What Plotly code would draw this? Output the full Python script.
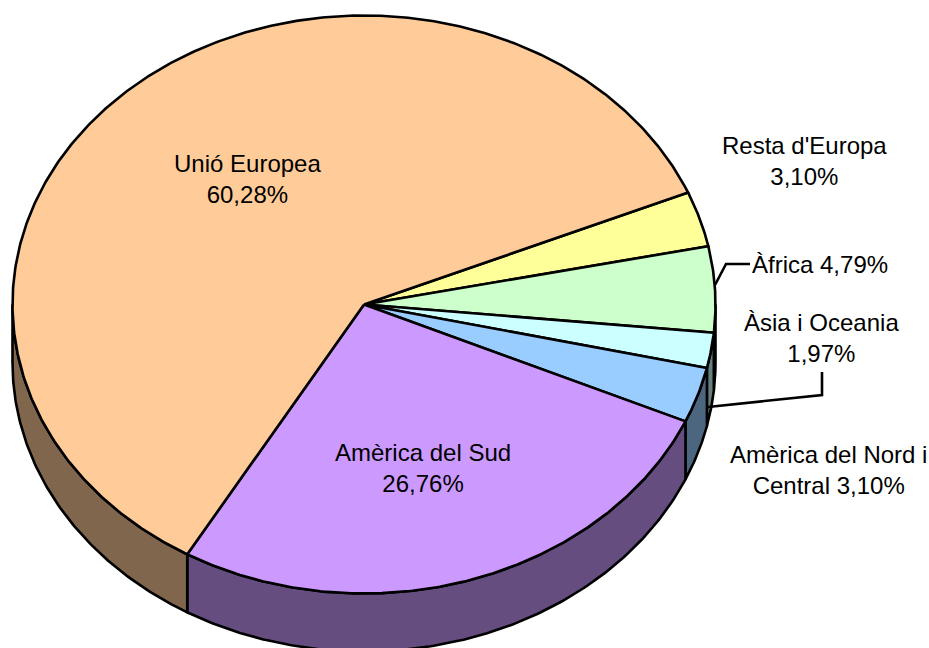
import math
import plotly.graph_objects as go

# Data
categories = ["Unió Europea", "Resta d'Europa", "Àfrica", "Àsia i Oceania",
              "Amèrica del Nord i Central", "Amèrica del Sud"]
shares = [60.28, 3.10, 4.79, 1.97, 3.10, 26.76]
top_colors = ["#FFCC99", "#FFFF99", "#CCFFCC", "#CCFFFF", "#99CCFF", "#CC99FF"]
side_colors = ["#80664D", "#80804D", "#668066", "#668080", "#4D6680", "#664D80"]
label_texts = ["Unió Europea<br>60,28%", "Resta d'Europa<br>3,10%", "Àfrica 4,79%",
               "Àsia i Oceania<br>1,97%", "Amèrica del Nord i<br>Central 3,10%",
               "Amèrica del Sud<br>26,76%"]
label_x = [247, 804, 820, 821, 828, 422.5]
label_y = [179, 161, 264, 338, 470, 468]

# Pie projection
CX, CY, RX, RY, DEPTH = 364, 304.5, 351.5, 289, 58


def pt(deg, dy=0):
    r = math.radians(deg)
    return CX + RX * math.cos(r), CY - RY * math.sin(r) + dy


fig = go.Figure()
LW = 2.6


def poly(xs, ys, fill):
    fig.add_trace(go.Scatter(x=xs, y=ys, mode="lines", fill="toself", fillcolor=fill,
                             line=dict(color="black", width=LW), hoverinfo="skip",
                             showlegend=False))


# slice angle ranges, clockwise (decreasing angle), starting at the Resta d'Europa edge
order = [1, 2, 3, 4, 5, 0]
a = 22.8
spans = {}
for i in order:
    b = a - shares[i] * 3.6
    spans[i] = (a, b)
    a = b

# side walls: visible part of each slice is the front half, -180..0 degrees
for i in order:
    hi, lo = spans[i]
    hi2, lo2 = min(hi, 0), max(lo, -180)
    if hi2 <= lo2:
        continue
    n = max(int((hi2 - lo2) * 2), 2)
    degs = [hi2 + (lo2 - hi2) * k / n for k in range(n + 1)]
    top = [pt(d) for d in degs]
    bot = [pt(d, DEPTH) for d in reversed(degs)]
    pts = top + bot + [top[0]]
    poly([p[0] for p in pts], [p[1] for p in pts], side_colors[i])

# top wedges
for i in order:
    hi, lo = spans[i]
    n = max(int((hi - lo) * 2), 2)
    pts = [(CX, CY)] + [pt(hi + (lo - hi) * k / n) for k in range(n + 1)] + [(CX, CY)]
    poly([p[0] for p in pts], [p[1] for p in pts], top_colors[i])

# leader lines
leader_x = [[715, 726, 750], [708, 822, 822]]
leader_y = [[285, 264, 264], [407, 395, 372]]
for lx, ly in zip(leader_x, leader_y):
    fig.add_trace(go.Scatter(x=lx, y=ly, mode="lines", line=dict(color="black", width=LW),
                             hoverinfo="skip", showlegend=False))

for t, x, y in zip(label_texts, label_x, label_y):
    fig.add_annotation(x=x, y=y, text=t, showarrow=False, xanchor="center", yanchor="middle",
                       align="center", font=dict(family="Liberation Sans", size=24, color="black"))

fig.update_xaxes(range=[0, 929], visible=False, fixedrange=True)
fig.update_yaxes(range=[648, 0], visible=False, fixedrange=True)
fig.update_layout(width=929, height=648, margin=dict(l=0, r=0, t=0, b=0),
                  paper_bgcolor="white", plot_bgcolor="white", showlegend=False)
fig.write_html("out.html", config=dict(displayModeBar=False),
               post_script="document.body.style.margin='0';document.body.style.overflow='hidden';")
